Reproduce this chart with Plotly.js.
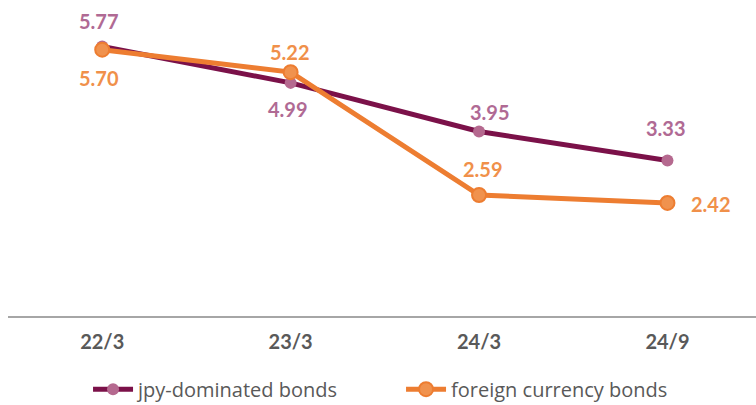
<!DOCTYPE html>
<html>
<head>
<meta charset="utf-8">
<script src="https://cdn.plot.ly/plotly-3.0.1.min.js"></script>
<style>html,body{margin:0;padding:0;background:#fff;}#chart{width:756px;height:405px;}</style>
</head>
<body>
<div id="chart"></div>
<script>
const categories = ["22/3", "23/3", "24/3", "24/9"];
const jpyValues = [5.77, 4.99, 3.95, 3.33];
const foreignValues = [5.70, 5.22, 2.59, 2.42];
const seriesNames = ["jpy-dominated bonds", "foreign currency bonds"];

// label offsets in pixels (style only)
const jpyShift = [[-3, 25], [-3, -26], [11, 19], [-1, 32]];
const fgnShift = [[-3, -28], [-1, 20], [4, 26], [44, -1]];

const font = "Lato, 'Open Sans', sans-serif";
const legendFont = "'Open Sans', Lato, sans-serif";
const jpyLabelColor = "#B06A94";
const fgnLabelColor = "#F0904A";

const traces = [
  {
    x: categories, y: jpyValues, name: seriesNames[0],
    type: "scatter", mode: "lines+markers",
    line: {color: "#7B1149", width: 5},
    marker: {color: "#B5698F", size: 12},
    cliponaxis: false
  },
  {
    x: categories, y: foreignValues, name: seriesNames[1],
    type: "scatter", mode: "lines+markers",
    line: {color: "#ED7D31", width: 5},
    marker: {color: "#F0924E", size: 14, line: {color: "#ED7D31", width: 2}},
    cliponaxis: false
  }
];

function labels(vals, shifts, color) {
  return vals.map((v, i) => ({
    x: categories[i], y: v, xref: "x", yref: "y",
    text: v.toFixed(2), showarrow: false,
    xshift: shifts[i][0], yshift: shifts[i][1],
    font: {family: font, size: 20, color: color, weight: "bold"}
  }));
}

const layout = {
  width: 756, height: 405,
  margin: {l: 8, r: 0, t: 10, b: 0, autoexpand: false},
  paper_bgcolor: "#fff", plot_bgcolor: "#fff",
  showlegend: true,
  legend: {orientation: "h", x: 0.107, xanchor: "left", y: 0.04, yanchor: "middle",
    font: {family: legendFont, size: 20, color: "#595959"}, entrywidth: 258, entrywidthmode: "pixels",
    itemwidth: 40, tracegroupgap: 0},
  xaxis: {
    type: "category", range: [-0.5, 3.47],
    showline: true, linecolor: "#A6A6A6", linewidth: 2,
    showgrid: false, zeroline: false, ticks: "",
    tickfont: {family: font, size: 20, color: "#595959", weight: "bold"},
    ticklabelstandoff: 7
  },
  yaxis: {
    domain: [0.2253, 1],
    range: [0, 6.55], showgrid: false, zeroline: false, showline: false,
    showticklabels: false, ticks: ""
  },
  annotations: labels(jpyValues, jpyShift, jpyLabelColor).concat(labels(foreignValues, fgnShift, fgnLabelColor))
};

Plotly.newPlot("chart", traces, layout, {displayModeBar: false, staticPlot: true});
</script>
</body>
</html>
